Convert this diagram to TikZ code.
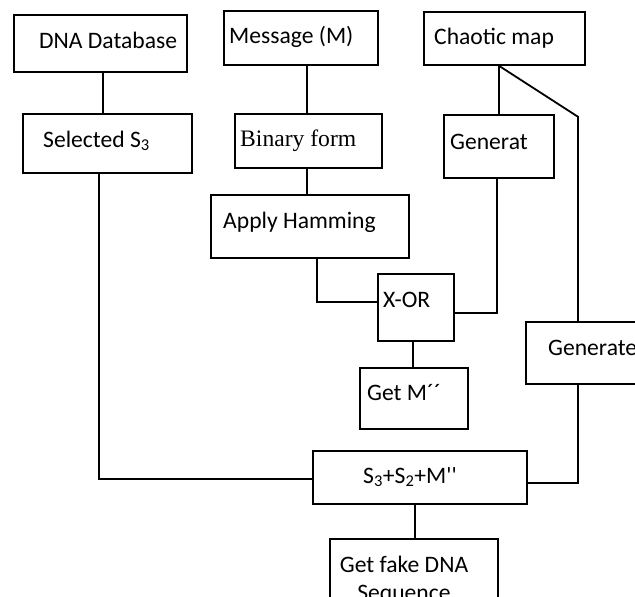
\documentclass[tikz,border=0pt]{standalone}
\usepackage{fontspec}
\setmainfont{Carlito}
\newfontfamily\timesfont{Liberation Serif}
\usetikzlibrary{positioning}

\tikzset{
  stepbox/.style={draw, rectangle, line width=1.8pt, inner sep=0pt, anchor=north west},
  steptext/.style={anchor=base west, inner sep=0pt, font=\fontsize{23.6}{28}\selectfont},
  wire/.style={line width=1.8pt}
}

\begin{document}
\begin{tikzpicture}[x=1pt,y=-1pt]
\useasboundingbox (0,0) rectangle (635,597);
\clip (0,0) rectangle (635,597);

\node[stepbox, minimum width=173, minimum height=57] (db) at (13,14) {};
\node[stepbox, minimum width=154, minimum height=54] (msg) at (223,10) {};
\node[stepbox, minimum width=161, minimum height=53] (chaos) at (423,11) {};
\node[stepbox, minimum width=169, minimum height=59] (sel) at (22,113) {};
\node[stepbox, minimum width=147, minimum height=54] (bin) at (234,113) {};
\node[stepbox, minimum width=110, minimum height=63] (genA) at (443,114) {};
\node[stepbox, minimum width=198, minimum height=63] (ham) at (210,194) {};
\node[stepbox, minimum width=76, minimum height=67] (xor) at (377,273) {};
\node[stepbox, minimum width=108, minimum height=61] (getm) at (359,367) {};
\node[stepbox, minimum width=120, minimum height=62] (genB) at (525,321) {};
\node[stepbox, minimum width=214, minimum height=53] (sum) at (312,450) {};
\node[stepbox, minimum width=168, minimum height=80] (fake) at (329,538) {};

\node[steptext] (db-t) at (39,48) {DNA Database};
\node[steptext] (msg-t) at (229,43) {Message (M)};
\node[steptext] (chaos-t) at (434,45) {Chaotic map};
\node[steptext] (sel-t) at (43,147) {Selected S\textsubscript{3}};
\node[steptext, font=\fontsize{23.6}{28}\timesfont] (bin-t) at (240,146) {Binary form};
\node[steptext] (genA-t) at (450,149) {Generat};
\node[steptext] (ham-t) at (223,228) {Apply Hamming};
\node[steptext] (xor-t) at (383,307) {X-OR};
\node[steptext] (getm-t) at (367,400) {Get M´´};
\node[steptext] (genB-t) at (548,355) {Generate};
\node[steptext] (sum-t) at (363,483) {S\textsubscript{3}+S\textsubscript{2}+M\textquotesingle\textquotesingle};
\node[steptext, anchor=base] (fake-t) at (404,572) {Get fake DNA};
\node[steptext, anchor=base] (fake-u) at (404,600) {Sequence};

\draw[wire] ([xshift=90pt]db.south west) -- ([xshift=81pt]sel.north west);
\draw[wire] ([xshift=84pt]msg.south west) -- ([xshift=73pt]bin.north west);
\draw[wire] ([xshift=73pt]bin.south west) -- ([xshift=97pt]ham.north west);
\draw[wire] ([xshift=76pt]chaos.south west) -- ([xshift=56pt]genA.north west);
\draw[wire] ([xshift=76pt]chaos.south west) -- ++(79,51) -- ([xshift=53pt]genB.north west);
\draw[wire] ([xshift=107pt]ham.south west) |- ([yshift=5.5pt]xor.west);
\draw[wire] ([xshift=54pt]genA.south west) |- ([yshift=-5.5pt]xor.east);
\draw[wire] ([xshift=36pt]xor.south west) -- ([xshift=54pt]getm.north west);
\draw[wire] ([xshift=77pt]sel.south west) |- ([yshift=-1.5pt]sum.west);
\draw[wire] ([xshift=53pt]genB.south west) |- ([yshift=-5.5pt]sum.east);
\draw[wire] ([xshift=103pt]sum.south west) -- ([xshift=86pt]fake.north west);
\end{tikzpicture}
\end{document}
